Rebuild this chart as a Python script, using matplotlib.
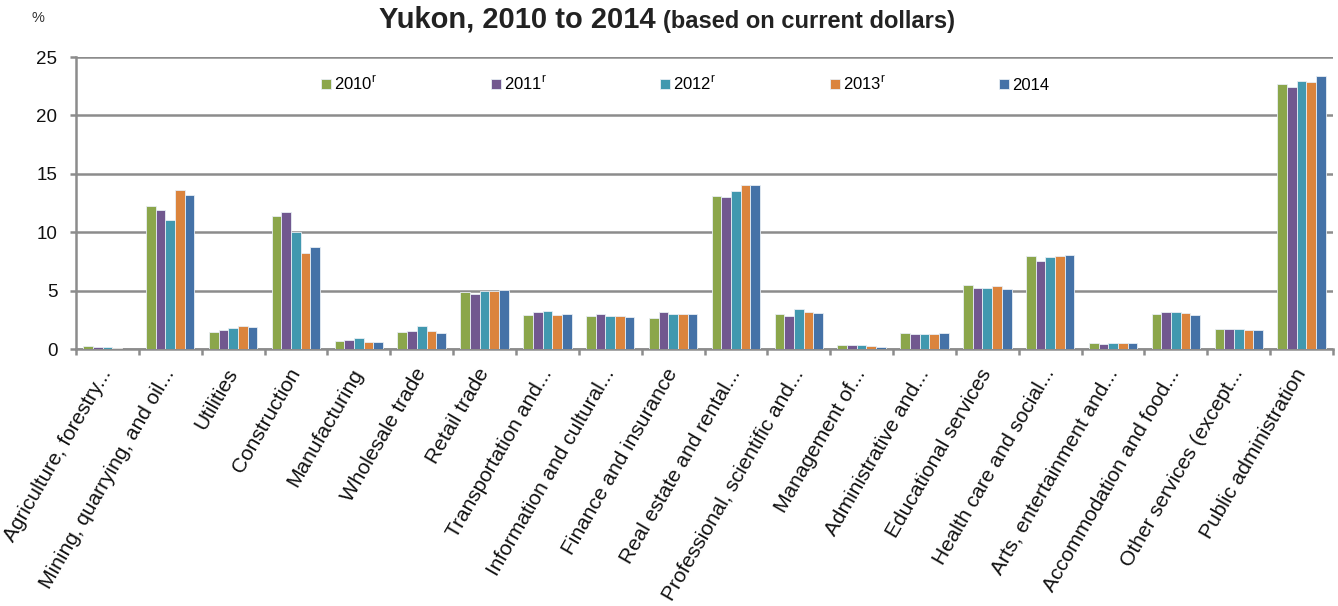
import matplotlib.pyplot as plt
import numpy as np

plt.rcParams['font.family'] = ['Liberation Sans', 'DejaVu Sans']

industries = ['Agriculture, forestry...', 'Mining, quarrying, and oil...', 'Utilities',
              'Construction', 'Manufacturing', 'Wholesale trade', 'Retail trade',
              'Transportation and...', 'Information and cultural...', 'Finance and insurance',
              'Real estate and rental...', 'Professional, scientific and...', 'Management of...',
              'Administrative and...', 'Educational services', 'Health care and social...',
              'Arts, entertainment and...', 'Accommodation and food...', 'Other services (except...',
              'Public administration']

y2010 = [0.22, 12.25, 1.48, 11.40, 0.71, 1.42, 4.85, 2.94, 2.80, 2.65,
         13.11, 3.02, 0.37, 1.34, 5.48, 7.97, 0.51, 3.02, 1.71, 22.66]
y2011 = [0.15, 11.90, 1.63, 11.74, 0.77, 1.57, 4.74, 3.20, 3.02, 3.20,
         12.99, 2.85, 0.31, 1.31, 5.22, 7.51, 0.46, 3.17, 1.71, 22.43]
y2012 = [0.15, 11.08, 1.77, 9.99, 0.91, 1.97, 5.00, 3.28, 2.85, 2.97,
         13.56, 3.39, 0.31, 1.28, 5.25, 7.91, 0.51, 3.20, 1.68, 22.97]
y2013 = [0.10, 13.60, 1.94, 8.25, 0.57, 1.57, 5.00, 2.94, 2.82, 2.97,
         14.02, 3.14, 0.26, 1.28, 5.36, 7.97, 0.48, 3.11, 1.63, 22.83]
y2014 = [0.04, 13.22, 1.85, 8.70, 0.60, 1.40, 5.03, 3.02, 2.77, 2.97,
         14.02, 3.11, 0.20, 1.34, 5.14, 8.05, 0.51, 2.94, 1.63, 23.35]

series = [y2010, y2011, y2012, y2013, y2014]
labels = ['2010$^\\mathregular{r}$', '2011$^\\mathregular{r}$', '2012$^\\mathregular{r}$',
          '2013$^\\mathregular{r}$', '2014']
colors = ['#8BA64B', '#71588F', '#4198AF', '#DB843D', '#4572A7']

fig = plt.figure(figsize=(13.38, 6.06), dpi=100)
ax = fig.add_axes([76/1338, 1-349/606, (1333-76)/1338, (349-57)/606])

x = np.arange(len(industries))
w = 0.154
for i, (vals, c, lab) in enumerate(zip(series, colors, labels)):
    ax.bar(x + (i-2)*w, vals, width=w, color=c, edgecolor='#e8eef4', linewidth=0.6,
           label=lab, zorder=3)

ax.set_xlim(-0.5, len(industries)-0.5)
ax.set_ylim(0, 25)
ax.set_yticks([0, 5, 10, 15, 20, 25])
ax.yaxis.grid(True, color='#8c8c8c', linewidth=1.8, zorder=0)
ax.set_axisbelow(True)

ax.set_xticks(x)
ax.set_xticklabels(industries, rotation=60, ha='right', va='center',
                   rotation_mode='anchor', fontsize=15, color='#111111')
ax.set_xticks(np.arange(-0.5, len(industries)), minor=True)
ax.tick_params(axis='x', which='major', length=0, pad=15)
ax.tick_params(axis='x', which='minor', length=4.5, width=1.8, color='#8c8c8c')
ax.tick_params(axis='y', length=4.5, width=1.8, color='#8c8c8c', labelsize=13.5, pad=9,
               labelcolor='#111111')

for s in ['top', 'right']:
    ax.spines[s].set_visible(False)
for s in ['left', 'bottom']:
    ax.spines[s].set_color('#8c8c8c')
    ax.spines[s].set_linewidth(1.8)

leg = ax.legend(loc='upper left', bbox_to_anchor=(0.183, 0.99), ncol=5, frameon=False,
                fontsize=12, handlelength=0.6, handleheight=0.6, handletextpad=0.2,
                columnspacing=6.8)

fig.text(656/1338, 1-28/606, 'Yukon, 2010 to 2014', ha='right', va='baseline',
         fontsize=21, fontweight='bold', color='#222222')
fig.text(663/1338, 1-28/606, '(based on current dollars)', ha='left', va='baseline',
         fontsize=17, fontweight='bold', color='#222222')
fig.text(38/1338, 1-18/606, '%', ha='center', va='center', fontsize=10.5, color='#333333')

fig.savefig('out.png', dpi=100)
